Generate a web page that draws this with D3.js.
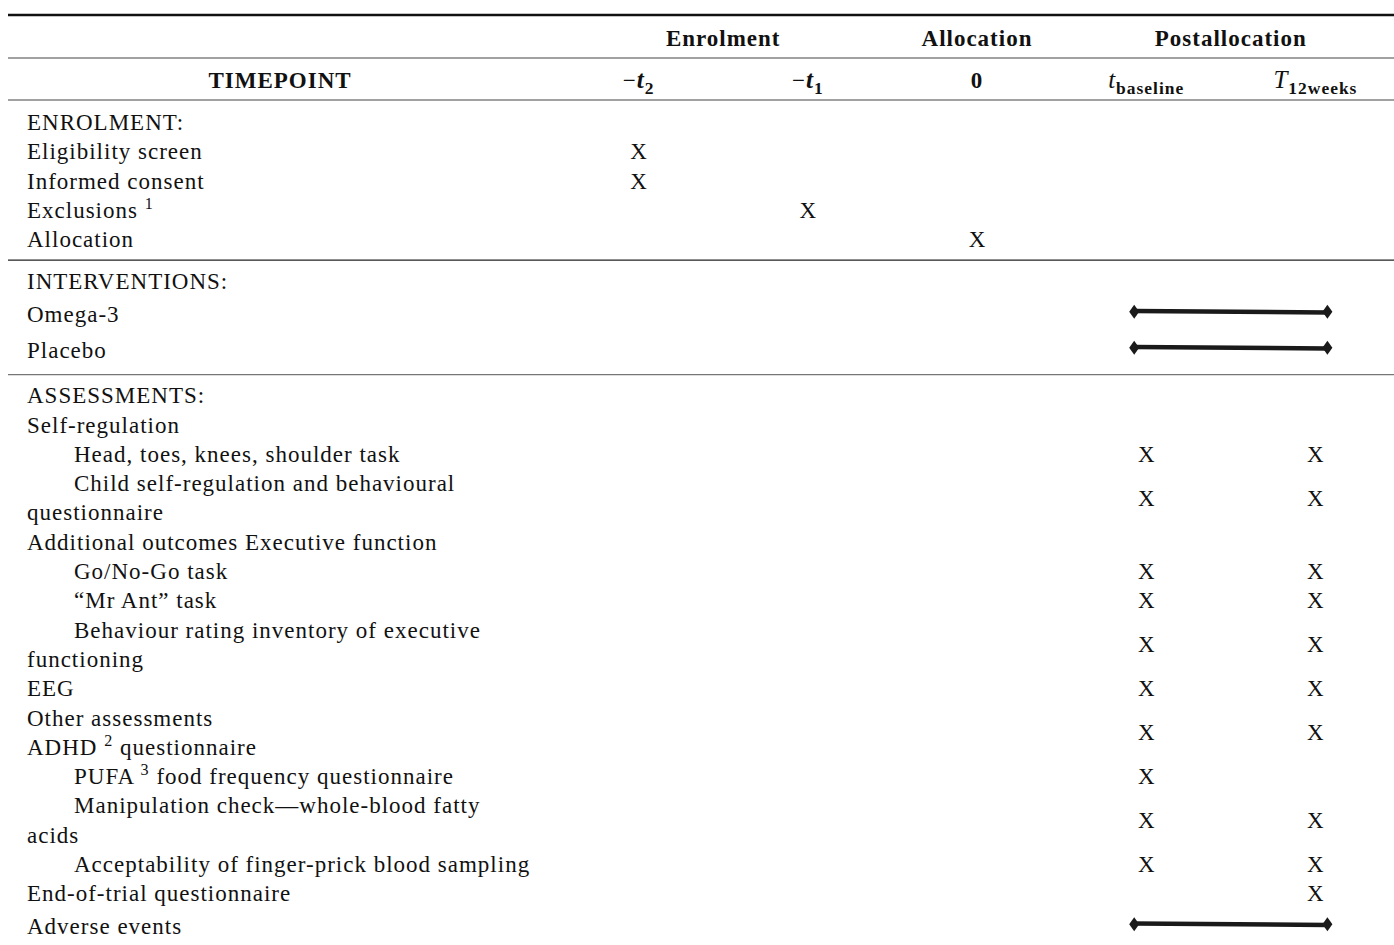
<!DOCTYPE html>
<html>
<head>
<meta charset="utf-8">
<script src="https://cdn.jsdelivr.net/npm/d3@7"></script>
<style>
  body { margin: 0; background: #fff; }
  svg text { font-family: "Liberation Serif", "DejaVu Serif", serif; fill: #111; letter-spacing: 1px; }
</style>
</head>
<body>
<svg id="schedule"></svg>
<script>
// Column headers
const timepointKeys = ["-t2", "-t1", "0", "tbaseline", "T12weeks"];
const timepointPrefix = ["\u2212", "\u2212", "", "", ""];
const timepointMain = ["t", "t", "0", "t", "T"];
const timepointSub = ["2", "1", "", "baseline", "12weeks"];

const groupLabels = ["Enrolment", "Allocation", "Postallocation"];
const groupSpans = [["-t2", "-t1"], ["0", "0"], ["tbaseline", "T12weeks"]];

const sectionTitles = ["ENROLMENT:", "INTERVENTIONS:", "ASSESSMENTS:"];

// rows: label lines (^n = superscript), indent level, marked timepoints, or a bar span
const enrolmentRows = [
    {lines: ["Eligibility screen"], indent: 0, marks: ["-t2"]},
    {lines: ["Informed consent"], indent: 0, marks: ["-t2"]},
    {lines: ["Exclusions ^1"], indent: 0, marks: ["-t1"]},
    {lines: ["Allocation"], indent: 0, marks: ["0"]}
];

const interventionRows = [
    {lines: ["Omega-3"], indent: 0, bar: ["tbaseline", "T12weeks"]},
    {lines: ["Placebo"], indent: 0, bar: ["tbaseline", "T12weeks"]}
];

const assessmentRows = [
    {lines: ["Self-regulation"], indent: 0, marks: []},
    {lines: ["Head, toes, knees, shoulder task"], indent: 1, marks: ["tbaseline", "T12weeks"]},
    {lines: ["Child self-regulation and behavioural", "questionnaire"], indent: 1, marks: ["tbaseline", "T12weeks"]},
    {lines: ["Additional outcomes Executive function"], indent: 0, marks: []},
    {lines: ["Go/No-Go task"], indent: 1, marks: ["tbaseline", "T12weeks"]},
    {lines: ["\u201cMr Ant\u201d task"], indent: 1, marks: ["tbaseline", "T12weeks"]},
    {lines: ["Behaviour rating inventory of executive", "functioning"], indent: 1, marks: ["tbaseline", "T12weeks"]},
    {lines: ["EEG"], indent: 0, marks: ["tbaseline", "T12weeks"]},
    {lines: ["Other assessments", "ADHD ^2 questionnaire"], indent: 0, marks: ["tbaseline", "T12weeks"]},
    {lines: ["PUFA ^3 food frequency questionnaire"], indent: 1, marks: ["tbaseline"]},
    {lines: ["Manipulation check\u2014whole-blood fatty", "acids"], indent: 1, marks: ["tbaseline", "T12weeks"]},
    {lines: ["Acceptability of finger-prick blood sampling"], indent: 1, marks: ["tbaseline", "T12weeks"]},
    {lines: ["End-of-trial questionnaire"], indent: 0, marks: ["T12weeks"]},
    {lines: ["Adverse events"], indent: 0, bar: ["tbaseline", "T12weeks"]}
];

const sections = [enrolmentRows, interventionRows, assessmentRows];

const width = 1394, height = 945;
const fontSize = 23;
const lineH = 29.3;

const svg = d3.select("#schedule")
    .attr("width", width)
    .attr("height", height);

const x = d3.scaleBand()
    .domain(timepointKeys)
    .range([554, 1400]);
const xc = k => x(k) + x.bandwidth() / 2;

// Rules
function rule(y, w, color) {
    svg.append("line")
        .attr("x1", 8).attr("x2", width)
        .attr("y1", y).attr("y2", y)
        .attr("stroke", color)
        .attr("stroke-width", w);
}

rule(15, 2.5, "#111");

// Group header row
groupLabels.forEach((g, i) => {
    const [a, b] = groupSpans[i];
    svg.append("text")
        .attr("x", (xc(a) + xc(b)) / 2)
        .attr("y", 38)
        .attr("dy", "0.35em")
        .attr("text-anchor", "middle")
        .attr("font-size", fontSize)
        .attr("font-weight", "bold")
        .text(g);
});
rule(58, 1.2, "#444");

// Timepoint row
svg.append("text")
    .attr("x", 280)
    .attr("y", 80)
    .attr("dy", "0.35em")
    .attr("text-anchor", "middle")
    .attr("font-size", fontSize)
    .attr("font-weight", "bold")
    .text("TIMEPOINT");

timepointKeys.forEach((k, i) => {
    const t = svg.append("text")
        .attr("x", xc(k))
        .attr("y", 80)
        .attr("dy", "0.35em")
        .attr("text-anchor", "middle")
        .attr("font-size", fontSize);
    if (timepointPrefix[i]) t.append("tspan").text(timepointPrefix[i]);
    const main = t.append("tspan").text(timepointMain[i]);
    if (timepointMain[i] === "0") main.attr("font-weight", "bold");
    else main.attr("font-style", "italic").attr("font-size", fontSize + 2);
    if (timepointPrefix[i]) main.attr("font-weight", "bold");
    if (timepointSub[i]) {
        t.append("tspan")
            .attr("dy", 6)
            .attr("font-size", fontSize * 0.76)
            .attr("font-weight", "bold")
            .text(timepointSub[i]);
    }
});
rule(100, 1.2, "#444");

// Label writer with superscript support
function writeLabel(xPos, yPos, str) {
    const t = svg.append("text")
        .attr("x", xPos)
        .attr("y", yPos)
        .attr("dy", "0.35em")
        .attr("font-size", fontSize);
    const parts = str.split(/\^(\d)/);
    parts.forEach((p, j) => {
        if (j % 2 === 1) {
            t.append("tspan")
                .attr("dy", -9)
                .attr("font-size", fontSize * 0.7)
                .text(p);
        } else if (p) {
            const s = t.append("tspan").text(p);
            if (j > 0) s.attr("dy", 9);
        }
    });
}

// Body
let y = 122;
sections.forEach((rows, si) => {
    writeLabel(27, y, sectionTitles[si]);
    let prevBar = false;
    rows.forEach(r => {
        if (r.bar) {
            y += prevBar ? 36 : 33;
        } else {
            y += lineH;
        }
        const yTop = y;
        r.lines.forEach((ln, li) => {
            // wrapped continuation lines fall back to the left margin
            writeLabel(r.indent && li === 0 ? 74 : 27, yTop + li * lineH, ln);
        });
        const yMid = yTop + (r.lines.length - 1) * lineH / 2;
        y = yTop + (r.lines.length - 1) * lineH;

        if (r.marks) {
            r.marks.forEach(m => {
                svg.append("text")
                    .attr("x", xc(m))
                    .attr("y", yMid)
                    .attr("dy", "0.35em")
                    .attr("text-anchor", "middle")
                    .attr("font-size", fontSize)
                    .style("letter-spacing", "0px")
                    .text("X");
            });
        }
        if (r.bar) {
            const x1 = xc(r.bar[0]) - 12, x2 = xc(r.bar[1]) + 12;
            const yb = yMid - 2;
            svg.append("line")
                .attr("x1", x1).attr("x2", x2)
                .attr("y1", yb - 0.7).attr("y2", yb + 0.7)
                .attr("stroke", "#1a1a1a")
                .attr("stroke-width", 4.5);
            [x1, x2].forEach(px => {
                svg.append("path")
                    .attr("d", `M${px},${yb - 7}L${px + 5},${yb}L${px},${yb + 7}L${px - 5},${yb}Z`)
                    .attr("fill", "#1a1a1a");
            });
        }
        prevBar = !!r.bar;
    });
    if (si < sections.length - 1) {
        y += prevBar ? 25 : 21;
        rule(y, 1.2, si === 0 ? "#222" : "#777");
        y += 20.5;
    }
});
</script>
</body>
</html>
